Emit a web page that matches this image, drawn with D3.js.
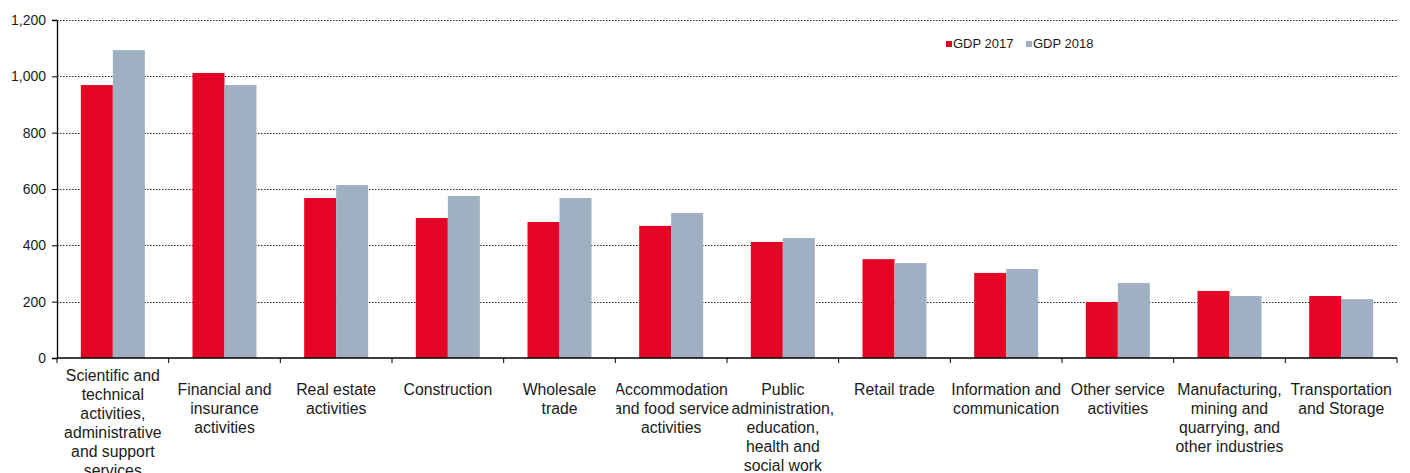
<!DOCTYPE html>
<head>
  <meta charset="utf-8">
  <script src="https://d3js.org/d3.v7.min.js"></script>
  <style>
    body { margin: 0; background: #fff; }
    text { font-family: "Liberation Sans", Arial, sans-serif; fill: #1a1a1a; }
  </style>
</head>
<body>
  <div id="chart"></div>
</body>
<script>

// data
var categories = [
  ["Scientific and", "technical", "activities,", "administrative", "and support", "services"],
  ["Financial and", "insurance", "activities"],
  ["Real estate", "activities"],
  ["Construction"],
  ["Wholesale", "trade"],
  ["Accommodation", "and food service", "activities"],
  ["Public", "administration,", "education,", "health and", "social work"],
  ["Retail trade"],
  ["Information and", "communication"],
  ["Other service", "activities"],
  ["Manufacturing,", "mining and", "quarrying, and", "other industries"],
  ["Transportation", "and Storage"]
];
var gdp2017 = [969, 1012, 568, 497, 483, 469, 412, 351, 302, 199, 238, 220];
var gdp2018 = [1093, 969, 614, 575, 568, 515, 426, 337, 316, 266, 220, 209];
var seriesNames = ["GDP 2017", "GDP 2018"];
var seriesColors = ["#e40424", "#9eb0c1"];
var yTicks = [0, 200, 400, 600, 800, 1000, 1200];

var W = 1410, H = 473;
var margin = {top: 20, right: 13, bottom: 115, left: 57},
    width = W - margin.left - margin.right,
    height = H - margin.top - margin.bottom;

var svgRoot = d3.select("#chart")
  .append("svg")
    .attr("width", W)
    .attr("height", H);
var svg = svgRoot.append("g")
    .attr("transform", "translate(" + margin.left + "," + margin.top + ")");

var idx = d3.range(categories.length);

var x = d3.scaleBand()
  .domain(idx)
  .range([0, width])
  .paddingInner(0)
  .paddingOuter(0);

var x1 = d3.scaleBand()
  .domain([0, 1])
  .range([0, x.bandwidth()])
  .paddingOuter(0.745)
  .paddingInner(0);

var y = d3.scaleLinear()
  .domain([0, 1200])
  .range([height, 0]);

// dotted grid lines
svg.append("g")
  .selectAll("line")
  .data(yTicks.filter(function (d) { return d > 0; }))
  .enter()
  .append("line")
    .attr("x1", 0)
    .attr("x2", width)
    .attr("y1", function (d) { return Math.round(y(d)) + 0.5; })
    .attr("y2", function (d) { return Math.round(y(d)) + 0.5; })
    .style("stroke", "#222")
    .style("stroke-width", 1)
    .style("stroke-dasharray", "1.5,1.5");

// bars
var series = [gdp2017, gdp2018];
series.forEach(function (vals, s) {
  svg.append("g")
    .selectAll("rect")
    .data(vals)
    .enter()
    .append("rect")
      .attr("x", function (d, i) { return x(i) + x1(s); })
      .attr("y", function (d) { return y(d); })
      .attr("width", x1.bandwidth())
      .attr("height", function (d) { return height - y(d); })
      .style("fill", seriesColors[s]);
});

// y axis
var yAxis = svg.append("g")
  .call(d3.axisLeft(y).tickValues(yTicks).tickSize(5).tickPadding(6).tickFormat(d3.format(",")));
yAxis.select(".domain").attr("stroke", "#000").attr("stroke-width", 1.3);
yAxis.selectAll(".tick line").attr("stroke", "#000");
yAxis.selectAll("text").style("font-size", "14px").style("fill", "#1a1a1a");

// x axis with ticks between categories
var xAxis = svg.append("g")
  .attr("transform", "translate(0," + height + ")");
xAxis.append("line")
  .attr("x1", 0).attr("x2", width)
  .attr("y1", 0).attr("y2", 0)
  .style("stroke", "#000").style("stroke-width", 1.3);
xAxis.selectAll(".xt")
  .data(d3.range(categories.length + 1))
  .enter()
  .append("line")
    .attr("class", "xt")
    .attr("x1", function (d) { return d * x.bandwidth(); })
    .attr("x2", function (d) { return d * x.bandwidth(); })
    .attr("y1", 0).attr("y2", 5)
    .style("stroke", "#000");

// clip each label to its own category slot
var defs = svgRoot.append("defs");
idx.forEach(function (i) {
  var last = i === categories.length - 1;
  defs.append("clipPath")
    .attr("id", "lc" + i)
    .append("rect")
      .attr("x", x(i) + 1)
      .attr("y", 0)
      .attr("width", last ? x.bandwidth() + margin.right : x.bandwidth() + 1)
      .attr("height", margin.bottom);
});

var labels = xAxis.selectAll(".xl")
  .data(categories)
  .enter()
  .append("g")
    .attr("clip-path", function (d, i) { return "url(#lc" + i + ")"; })
  .append("text")
    .attr("class", "xl")
    .attr("text-anchor", "middle")
    .style("font-size", "15.8px")
    .attr("transform", function (d, i) {
      var top = i === 0 ? 23 : 37;
      return "translate(" + (x(i) + x.bandwidth() / 2) + "," + top + ")";
    });
labels.selectAll("tspan")
  .data(function (d) { return d; })
  .enter()
  .append("tspan")
    .attr("x", 0)
    .attr("dy", function (d, j) { return j === 0 ? 0 : 19; })
    .text(function (d) { return d; });

// legend
var legend = svg.append("g")
  .attr("transform", "translate(889,22)");
seriesNames.forEach(function (name, s) {
  var g = legend.append("g").attr("transform", "translate(" + (s * 80) + ",0)");
  g.append("rect")
    .attr("x", 0).attr("y", -1)
    .attr("width", 6).attr("height", 6)
    .style("fill", seriesColors[s]);
  g.append("text")
    .attr("x", 7).attr("y", 6)
    .style("font-size", "13px")
    .text(name);
});

</script>
